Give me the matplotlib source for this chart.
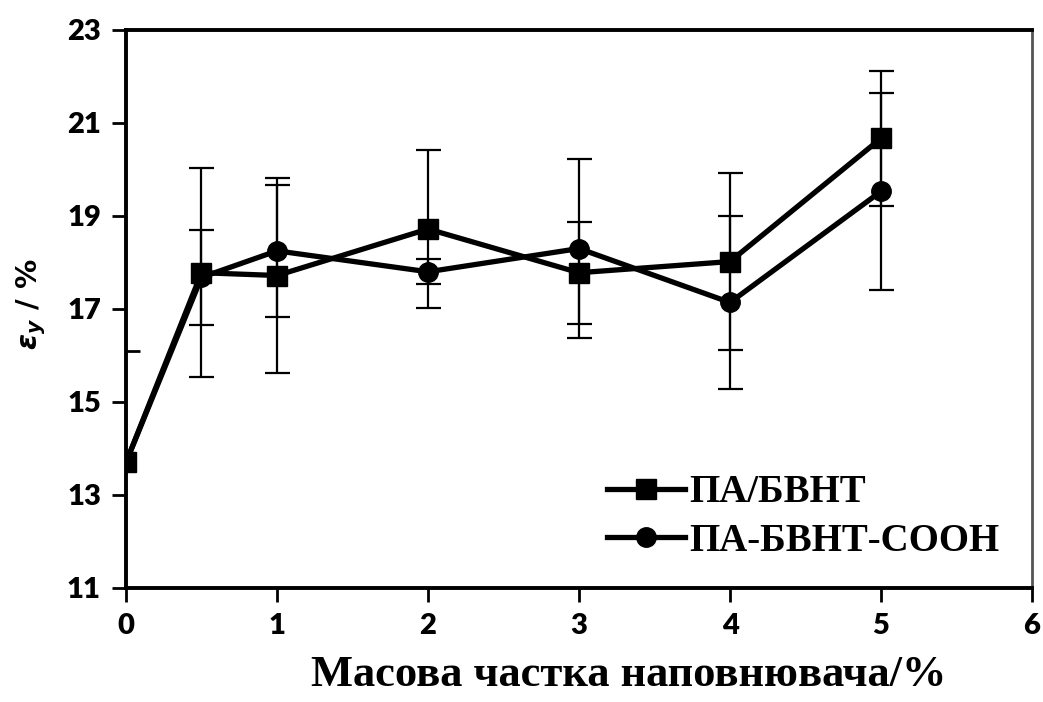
import matplotlib
matplotlib.use("Agg")
import matplotlib.pyplot as plt
from matplotlib.ticker import FixedLocator

# filler mass fraction, %
X_VALUES = [0, 0.5, 1, 2, 3, 4, 5]

# ПА/БВНТ (squares)
PA_BVNT = [13.7, 17.78, 17.72, 18.72, 17.78, 18.02, 20.67]
PA_BVNT_ERR = [0.0, 2.25, 2.1, 1.7, 1.1, 1.9, 1.45]

# ПА-БВНТ-СООН (circles)
PA_BVNT_COOH = [13.7, 17.68, 18.25, 17.8, 18.3, 17.14, 19.53]
PA_BVNT_COOH_ERR = [0.0, 1.02, 1.42, 0.27, 1.92, 1.87, 2.12]

SERIES_LABELS = ["ПА/БВНТ", "ПА-БВНТ-СООН"]
X_TICKS = [0, 1, 2, 3, 4, 5, 6]
Y_TICKS = [11, 13, 15, 17, 19, 21, 23]

plt.rcParams["mathtext.fontset"] = "custom"
plt.rcParams["mathtext.it"] = "DejaVu Sans:italic:bold"
plt.rcParams["mathtext.rm"] = "DejaVu Sans:bold"

fig = plt.figure(figsize=(10.43, 7.02), dpi=100)
ax = fig.add_axes([0.1208, 0.1624, 0.8687, 0.7949])

err_style = dict(ecolor="black", elinewidth=1.6, capsize=9, capthick=1.6)
ax.errorbar(X_VALUES[1:], PA_BVNT_COOH[1:], yerr=PA_BVNT_COOH_ERR[1:], fmt="none", **err_style)
ax.errorbar(X_VALUES[1:], PA_BVNT[1:], yerr=PA_BVNT_ERR[1:], fmt="none", **err_style)

ax.plot(X_VALUES, PA_BVNT_COOH, "-o", color="black", linewidth=3.8, markersize=14,
        label=SERIES_LABELS[1], zorder=3)
ax.plot(X_VALUES, PA_BVNT, "-s", color="black", linewidth=3.8, markersize=14,
        label=SERIES_LABELS[0], zorder=4)

ax.set_xlim(0, 6)
ax.set_ylim(11, 23)
ax.set_xticks(X_TICKS)
ax.set_yticks(Y_TICKS)
ax.yaxis.set_minor_locator(FixedLocator([16.1]))
ax.tick_params(axis="both", which="major", direction="out", length=10, width=2,
               pad=8, labelsize=21)
ax.tick_params(axis="y", which="minor", direction="in", length=10, width=2)
for lbl in ax.get_xticklabels() + ax.get_yticklabels():
    lbl.set_fontfamily("Lato")
    lbl.set_fontweight("heavy")

for side in ["left", "bottom", "top"]:
    ax.spines[side].set_linewidth(2.8)
    ax.spines[side].set_color("black")
ax.spines["right"].set_linewidth(2.0)
ax.spines["right"].set_color("#555555")

handles, labels = ax.get_legend_handles_labels()
leg = ax.legend(handles[::-1], labels[::-1], loc="lower right", frameon=False,
                bbox_to_anchor=(1.0, -0.009), handlelength=2.0, handletextpad=0.1,
                labelspacing=0.3, borderaxespad=0.45,
                prop=dict(family="Liberation Serif", weight="bold", size=28))

fig.text(0.603, 0.038, "Масова частка наповнювача/%", ha="center", va="center",
         fontsize=32, fontweight="bold", family="Liberation Serif", fontstretch="condensed")
fig.text(0.03, 0.566, r"$\varepsilon_y$ / %", rotation=90, ha="center", va="center",
         fontsize=21, fontweight="bold", family="DejaVu Sans")

fig.savefig("out.png", dpi=100)
